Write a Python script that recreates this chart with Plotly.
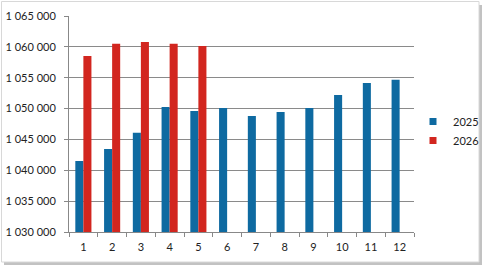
import plotly.graph_objects as go

months = [str(i) for i in range(1, 13)]
vals_2025 = [1041500, 1043450, 1046100, 1050250, 1049600, 1050100, 1048800, 1049450, 1050100, 1052200, 1054150, 1054650]
vals_2026 = [1058500, 1060500, 1060800, 1060500, 1060150, None, None, None, None, None, None, None]
yticks = [1030000, 1035000, 1040000, 1045000, 1050000, 1055000, 1060000, 1065000]
series = [("2025", vals_2025, "#0E6AA1"), ("2026", vals_2026, "#D2261F")]

W, H = 487, 270
L, R, T, B = 69, 73, 16, 38
pw, ph = W - L - R, H - T - B

def px(x):
    return (x - L) / pw

def py(y):
    return (H - B - y) / ph

fig = go.Figure()
for name, vals, col in series:
    fig.add_bar(x=months, y=vals, name=name, marker_color=col, marker_line_width=0, showlegend=False)
for name, vals, col in series:
    fig.add_scatter(x=[None], y=[None], mode="markers", name=name,
                    marker=dict(symbol="square", size=7, color=col))

shapes = [
    dict(type="rect", xref="paper", yref="paper", x0=px(4), x1=px(482), y0=py(5), y1=py(265),
         line=dict(width=0), fillcolor="rgba(120,120,120,0.45)", layer="below"),
    dict(type="rect", xref="paper", yref="paper", x0=px(1.5), x1=px(479), y0=py(1.5), y1=py(262),
         line=dict(width=1, color="#D8D8D8"), fillcolor="white", layer="below"),
]

fig.update_layout(
    width=W, height=H,
    margin=dict(l=L, r=R, t=T, b=B, autoexpand=False),
    paper_bgcolor="rgba(0,0,0,0)", plot_bgcolor="white",
    barmode="group", bargap=0.44, bargroupgap=0,
    separators=". ",
    font=dict(family="Lato", size=11, color="#222"),
    shapes=shapes,
    legend=dict(x=px(413), y=py(131), xanchor="left", yanchor="middle",
                font=dict(size=11), tracegroupgap=4, itemwidth=30, bgcolor="rgba(0,0,0,0)"),
    xaxis=dict(type="category", showline=True, linecolor="#888", linewidth=1,
               ticks="outside", tickson="boundaries", ticklen=4, tickcolor="#888",
               showgrid=False, ticklabelstandoff=5),
    yaxis=dict(range=[1030000, 1065000], tickvals=yticks, tickformat=",d",
               showline=True, linecolor="#888", linewidth=1, ticks="outside", ticklen=4,
               tickcolor="#888", gridcolor="#8a8a8a", gridwidth=1, zeroline=False,
               ticklabelstandoff=6),
)

fig.write_html("out.html")
